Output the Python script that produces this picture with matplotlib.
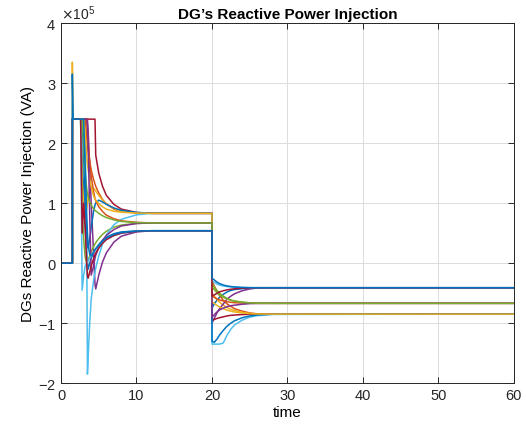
import matplotlib
matplotlib.use("Agg")
import matplotlib.pyplot as plt
from matplotlib.ticker import ScalarFormatter
import numpy as np

plt.rcParams['font.family'] = ['Liberation Sans', 'DejaVu Sans']
plt.rcParams['axes.unicode_minus'] = False

# shared time grid (s)
time = [0, 1.5, 1.5, 1.6,
        2.6, 2.8, 3.0, 3.2, 3.4, 3.5, 3.6, 3.8, 4.0, 4.3, 4.5, 4.6, 5.0, 5.5, 6.0, 7.0, 8.0, 10.0, 12.0,
        20.0, 20.0, 20.3, 20.7, 21.0, 21.5, 22.0, 22.5, 23.0, 24.0, 25.0, 26.0, 28.0, 60.0]

SCALE = 1e5  # values below are in units of 1e5 VA

q_dg1 = [0, 0, 2.4, 2.4, 2.4,
         1.7, 1.2, 0.6, 0.2, 0.0, -0.1, 0.0, 0.08, 0.17, 0.22, 0.24, 0.31, 0.38, 0.43, 0.49, 0.52, 0.537, 0.54,
         0.54, -0.75, -0.68, -0.61, -0.57, -0.52, -0.48, -0.455, -0.44, -0.425, -0.415, -0.41, -0.41, -0.41]
q_dg2 = [0, 0, 2.4, 2.4, 2.4,
         2.4, 2.4, 2.4, 2.1, 1.95, 1.85, 1.7, 1.55, 1.4, 1.32, 1.28, 1.17, 1.06, 0.99, 0.9, 0.86, 0.835, 0.83,
         0.83, -0.3, -0.38, -0.48, -0.54, -0.62, -0.68, -0.72, -0.76, -0.8, -0.83, -0.845, -0.85, -0.85]
q_dg3 = [0, 0, 3.35, 2.4, 2.4,
         1.4, 1.0, 0.8, 0.9, 1.0, 1.1, 1.2, 1.25, 1.25, 1.22, 1.2, 1.13, 1.05, 0.99, 0.91, 0.865, 0.838, 0.83,
         0.83, -0.5, -0.55, -0.61, -0.65, -0.7, -0.74, -0.77, -0.79, -0.82, -0.84, -0.848, -0.85, -0.85]
q_dg4 = [0, 0, 2.4, 2.4, 2.4,
         2.4, 2.4, 2.4, 2.4, 2.4, 2.2, 1.6, 1.0, 0.2, -0.35, -0.43, -0.2, 0.02, 0.17, 0.35, 0.45, 0.52, 0.54,
         0.54, -1.0, -0.92, -0.82, -0.76, -0.68, -0.6, -0.55, -0.51, -0.46, -0.43, -0.415, -0.41, -0.41]
q_dg5 = [0, 0, 2.4, 2.4, 2.4,
         0.9, 0.4, 0.1, 0.0, 0.02, 0.05, 0.12, 0.19, 0.27, 0.32, 0.34, 0.41, 0.48, 0.53, 0.6, 0.635, 0.663, 0.67,
         0.67, -0.35, -0.4, -0.46, -0.5, -0.55, -0.59, -0.615, -0.63, -0.65, -0.662, -0.668, -0.67, -0.67]
q_dg6 = [0, 0, 2.4, 2.4, 2.4,
         2.4, 2.4, 2.0, 0.5, -1.85, -1.55, -1.0, -0.6, -0.3, -0.15, -0.08, 0.12, 0.32, 0.47, 0.64, 0.73, 0.805, 0.83,
         0.83, -1.35, -1.35, -1.35, -1.35, -1.33, -1.2, -1.1, -1.03, -0.95, -0.9, -0.875, -0.855, -0.85]
q_dg7 = [0, 0, 2.4, 2.4, 2.4,
         2.4, 2.4, 2.4, 2.4, 2.4, 2.4, 2.4, 2.4, 2.4, 2.4, 1.8, 1.5, 1.28, 1.13, 0.98, 0.9, 0.845, 0.83,
         0.83, -0.95, -0.94, -0.92, -0.91, -0.895, -0.88, -0.87, -0.865, -0.857, -0.852, -0.85, -0.85, -0.85]
q_dg8 = [0, 0, 2.4, 2.4, 2.4,
         2.4, 1.8, 1.0, 0.5, 0.3, 0.25, 0.4, 0.6, 0.85, 0.97, 1.0, 1.05, 1.02, 0.98, 0.92, 0.88, 0.845, 0.83,
         0.83, -1.3, -1.32, -1.26, -1.2, -1.12, -1.05, -1.0, -0.96, -0.91, -0.88, -0.863, -0.852, -0.85]
q_dg9 = [0, 0, 2.4, 2.4, 2.4,
         2.4, 2.4, 2.4, 2.4, 2.2, 2.0, 1.7, 1.45, 1.2, 1.08, 1.04, 0.94, 0.86, 0.8, 0.74, 0.705, 0.68, 0.67,
         0.67, -0.55, -0.57, -0.6, -0.615, -0.63, -0.645, -0.653, -0.66, -0.665, -0.668, -0.67, -0.67, -0.67]
q_dg10 = [0, 0, 2.4, 2.4, 2.4,
          2.4, 2.4, 2.2, 1.8, 1.65, 1.55, 1.4, 1.27, 1.13, 1.07, 1.05, 0.99, 0.94, 0.9, 0.865, 0.848, 0.835, 0.83,
          0.83, -0.65, -0.67, -0.71, -0.73, -0.76, -0.785, -0.8, -0.815, -0.83, -0.842, -0.848, -0.85, -0.85]
q_dg11 = [0, 0, 2.4, 2.4, 2.4,
          2.4, 2.4, 2.4, 2.4, 2.3, 2.0, 0.8, -0.2, -0.05, 0.08, 0.13, 0.26, 0.38, 0.46, 0.56, 0.62, 0.66, 0.67,
          0.67, -0.9, -0.86, -0.81, -0.78, -0.75, -0.725, -0.71, -0.7, -0.685, -0.675, -0.672, -0.67, -0.67]
q_dg12 = [0, 0, 2.4, 2.4, 2.4,
          2.4, 2.0, 1.5, 1.25, 1.15, 1.1, 1.02, 0.97, 0.91, 0.88, 0.87, 0.83, 0.79, 0.76, 0.72, 0.695, 0.675, 0.67,
          0.67, -0.4, -0.44, -0.5, -0.53, -0.57, -0.6, -0.62, -0.635, -0.652, -0.663, -0.668, -0.67, -0.67]
q_dg13 = [0, 0, 2.4, 2.4, 2.4,
          -0.45, -0.2, -0.05, 0.0, 0.02, 0.04, 0.08, 0.12, 0.18, 0.22, 0.23, 0.29, 0.35, 0.4, 0.46, 0.5, 0.532, 0.54,
          0.54, -0.3, -0.32, -0.35, -0.365, -0.38, -0.39, -0.397, -0.402, -0.407, -0.41, -0.41, -0.41, -0.41]
q_dg14 = [0, 0, 2.4, 2.4, 2.4,
          0.5, 1.0, 0.6, 0.0, -0.2, -0.25, -0.15, -0.05, 0.07, 0.14, 0.17, 0.25, 0.33, 0.39, 0.46, 0.5, 0.53, 0.54,
          0.54, -0.55, -0.53, -0.5, -0.48, -0.46, -0.445, -0.435, -0.428, -0.418, -0.413, -0.41, -0.41, -0.41]
q_dg15 = [0, 0, 3.15, 2.4, 2.4,
          2.4, 2.4, 1.6, 0.8, 0.5, 0.3, 0.15, 0.12, 0.18, 0.22, 0.24, 0.3, 0.37, 0.42, 0.48, 0.51, 0.535, 0.54,
          0.54, -0.25, -0.28, -0.32, -0.34, -0.365, -0.38, -0.39, -0.397, -0.405, -0.408, -0.41, -0.41, -0.41]

series = [q_dg1, q_dg2, q_dg3, q_dg4, q_dg5, q_dg6, q_dg7, q_dg8,
          q_dg9, q_dg10, q_dg11, q_dg12, q_dg13, q_dg14, q_dg15]

colors = ['#0072BD', '#D95319', '#EDB120', '#7E2F8E', '#77AC30', '#4DBEEE', '#A2142F']

x_ticks = [0, 10, 20, 30, 40, 50, 60]
y_ticks = [-2, -1, 0, 1, 2, 3, 4]

fig = plt.figure(figsize=(5.26, 4.39), dpi=100)
ax = fig.add_axes([0.116, 0.125, 0.861, 0.820])

t = np.array(time)
for i, s in enumerate(series):
    ax.plot(t, np.array(s) * SCALE, color=colors[i % len(colors)], lw=1.1)

ax.set_xlim(0, 60)
ax.set_ylim(-2 * SCALE, 4 * SCALE)
ax.set_xticks(x_ticks)
ax.set_yticks([v * SCALE for v in y_ticks])

fmt = ScalarFormatter(useMathText=True)
fmt.set_powerlimits((0, 0))
ax.yaxis.set_major_formatter(fmt)
ax.yaxis.get_offset_text().set_fontsize(10)
ax.yaxis.get_offset_text().set_color('#262626')

ax.grid(True, color='#dcdcdc', lw=0.7)
ax.set_axisbelow(True)
for sp in ax.spines.values():
    sp.set_color('#262626')
    sp.set_linewidth(0.7)
ax.tick_params(direction='in', length=4, width=0.7, colors='#262626',
               labelsize=10.5, top=True, right=True)

ax.set_title('DG\u2019s Reactive Power Injection', fontsize=11, fontweight='bold', pad=4)
ax.set_xlabel('time', fontsize=11, labelpad=2)
ax.set_ylabel('DGs Reactive Power Injection (VA)', fontsize=11, labelpad=2)

fig.savefig('out.png', dpi=100)
